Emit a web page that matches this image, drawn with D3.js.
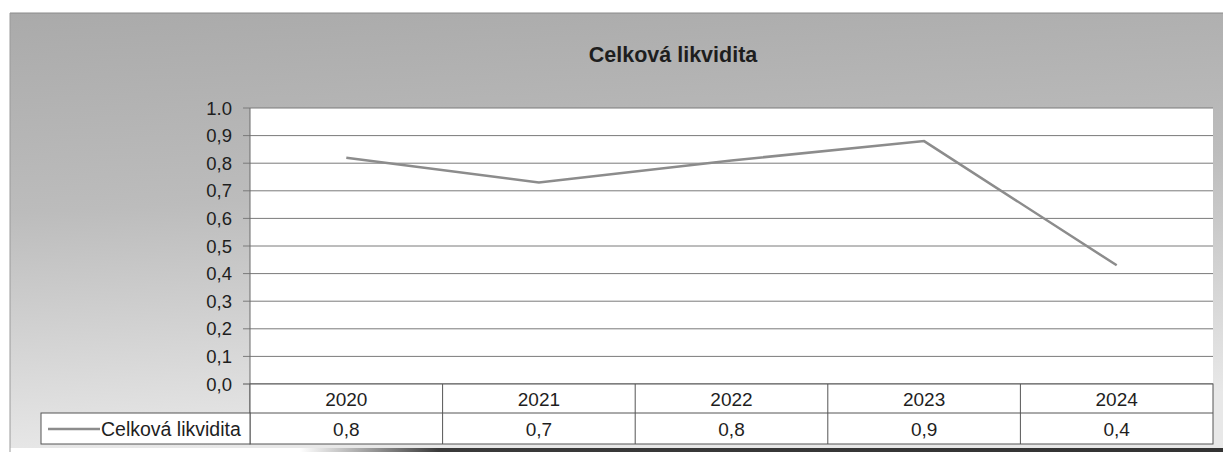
<!DOCTYPE html>
<html>
<head>
<meta charset="utf-8">
<script src="https://cdn.jsdelivr.net/npm/d3@7"></script>
<style>
	body { margin: 0; background: #ffffff; }
	#canvas { width: 1223px; height: 452px; }
	text { font-family: "Liberation Sans", Arial, sans-serif; fill: #1e1e1e; }
</style>
</head>
<body>
<div id="canvas"></div>
<script>
var years = ["2020", "2021", "2022", "2023", "2024"];
var liquidity = [0.82, 0.73, 0.81, 0.88, 0.43];
var tableValues = ["0,8", "0,7", "0,8", "0,9", "0,4"];
var yTicks = [0, 0.1, 0.2, 0.3, 0.4, 0.5, 0.6, 0.7, 0.8, 0.9, 1.0];
var seriesName = "Celková likvidita";
var chartTitle = "Celková likvidita";

var w = 1223, h = 452;
var svg = d3.select("#canvas")
	.append("svg")
	.attr("width", w)
	.attr("height", h);

var defs = svg.append("defs");
var grad = defs.append("linearGradient")
	.attr("id", "bg")
	.attr("x1", 0).attr("y1", 0)
	.attr("x2", 0.15).attr("y2", 1);
grad.append("stop").attr("offset", "0%").attr("stop-color", "#aaaaaa");
grad.append("stop").attr("offset", "45%").attr("stop-color", "#bcbcbc");
grad.append("stop").attr("offset", "100%").attr("stop-color", "#e8e8e8");

var band = defs.append("linearGradient")
	.attr("id", "band")
	.attr("x1", 0).attr("y1", 0)
	.attr("x2", 1).attr("y2", 0);
band.append("stop").attr("offset", "0%").attr("stop-color", "#3a3a3a").attr("stop-opacity", 0);
band.append("stop").attr("offset", "15%").attr("stop-color", "#3a3a3a").attr("stop-opacity", 1);
band.append("stop").attr("offset", "100%").attr("stop-color", "#333333").attr("stop-opacity", 1);

// scanned frame
svg.append("rect")
	.attr("x", 10).attr("y", 13)
	.attr("width", w - 10).attr("height", 435)
	.attr("fill", "url(#bg)");
svg.append("line")
	.attr("x1", 10).attr("x2", w).attr("y1", 13).attr("y2", 13)
	.attr("stroke", "#8a8a8a");
svg.append("line")
	.attr("x1", 10).attr("x2", 10).attr("y1", 13).attr("y2", 452)
	.attr("stroke", "#9a9a9a");
svg.append("rect")
	.attr("x", 300).attr("y", 448)
	.attr("width", w - 300).attr("height", 4)
	.attr("fill", "url(#band)");

var plotLeft = 250, plotRight = 1213, plotTop = 108, plotBottom = 384;

var xScale = d3.scaleBand()
	.domain(years)
	.range([plotLeft, plotRight])
	.paddingInner(0)
	.paddingOuter(0);

var yScale = d3.scaleLinear()
	.domain([0, 1])
	.range([plotBottom, plotTop]);

// plot area
svg.append("rect")
	.attr("x", plotLeft).attr("y", plotTop)
	.attr("width", plotRight - plotLeft).attr("height", plotBottom - plotTop)
	.attr("fill", "#ffffff");

// gridlines with outside ticks
svg.selectAll(".grid")
	.data(yTicks)
	.enter()
	.append("line")
	.attr("class", "grid")
	.attr("x1", plotLeft - 7)
	.attr("x2", plotRight)
	.attr("y1", function(d){ return yScale(d); })
	.attr("y2", function(d){ return yScale(d); })
	.attr("stroke", function(d){ return d === 0 ? "#555555" : "#7a7a7a"; })
	.attr("stroke-width", 1);

svg.selectAll(".yLabel")
	.data(yTicks)
	.enter()
	.append("text")
	.attr("class", "yLabel")
	.attr("x", 232)
	.attr("y", function(d){ return yScale(d) + 6.5; })
	.attr("text-anchor", "end")
	.attr("font-size", 18.5)
	.text(function(d){
		var s = d.toFixed(1);
		return d === 1 ? s : s.replace(".", ",");
	});

// left axis line
svg.append("line")
	.attr("x1", plotLeft).attr("x2", plotLeft)
	.attr("y1", plotTop).attr("y2", 444)
	.attr("stroke", "#6a6a6a");

// series line
var line = d3.line()
	.x(function(d, i){ return xScale(years[i]) + xScale.bandwidth() / 2; })
	.y(function(d){ return yScale(d); });

svg.append("path")
	.datum(liquidity)
	.attr("d", line)
	.attr("fill", "none")
	.attr("stroke", "#8c8c8c")
	.attr("stroke-width", 2.5);

// title
svg.append("text")
	.attr("x", 673)
	.attr("y", 62)
	.attr("text-anchor", "middle")
	.attr("font-size", 21.5)
	.attr("font-weight", "bold")
	.text(chartTitle);

// data table
var rowTop = plotBottom, rowMid = 413, rowBottom = 444;

svg.append("rect")
	.attr("x", plotLeft).attr("y", rowTop)
	.attr("width", plotRight - plotLeft).attr("height", rowBottom - rowTop)
	.attr("fill", "#ffffff")
	.attr("stroke", "#555555");

svg.append("rect")
	.attr("x", 41).attr("y", rowMid)
	.attr("width", plotLeft - 41).attr("height", rowBottom - rowMid)
	.attr("fill", "#ffffff")
	.attr("stroke", "#555555");

svg.append("line")
	.attr("x1", plotLeft).attr("x2", plotRight)
	.attr("y1", rowMid).attr("y2", rowMid)
	.attr("stroke", "#555555");

svg.selectAll(".colSep")
	.data(years.slice(1))
	.enter()
	.append("line")
	.attr("class", "colSep")
	.attr("x1", function(d){ return xScale(d); })
	.attr("x2", function(d){ return xScale(d); })
	.attr("y1", rowTop).attr("y2", rowBottom)
	.attr("stroke", "#555555");

svg.selectAll(".yearLabel")
	.data(years)
	.enter()
	.append("text")
	.attr("class", "yearLabel")
	.attr("x", function(d){ return xScale(d) + xScale.bandwidth() / 2; })
	.attr("y", 406)
	.attr("text-anchor", "middle")
	.attr("font-size", 19)
	.text(function(d){ return d; });

svg.selectAll(".valLabel")
	.data(tableValues)
	.enter()
	.append("text")
	.attr("class", "valLabel")
	.attr("x", function(d, i){ return xScale(years[i]) + xScale.bandwidth() / 2; })
	.attr("y", 436)
	.attr("text-anchor", "middle")
	.attr("font-size", 19)
	.text(function(d){ return d; });

// legend key in table
svg.append("line")
	.attr("x1", 48).attr("x2", 100)
	.attr("y1", 429).attr("y2", 429)
	.attr("stroke", "#8c8c8c")
	.attr("stroke-width", 2.5);

svg.append("text")
	.attr("x", 101)
	.attr("y", 436)
	.attr("font-size", 19.5)
	.text(seriesName);
</script>
</body>
</html>
